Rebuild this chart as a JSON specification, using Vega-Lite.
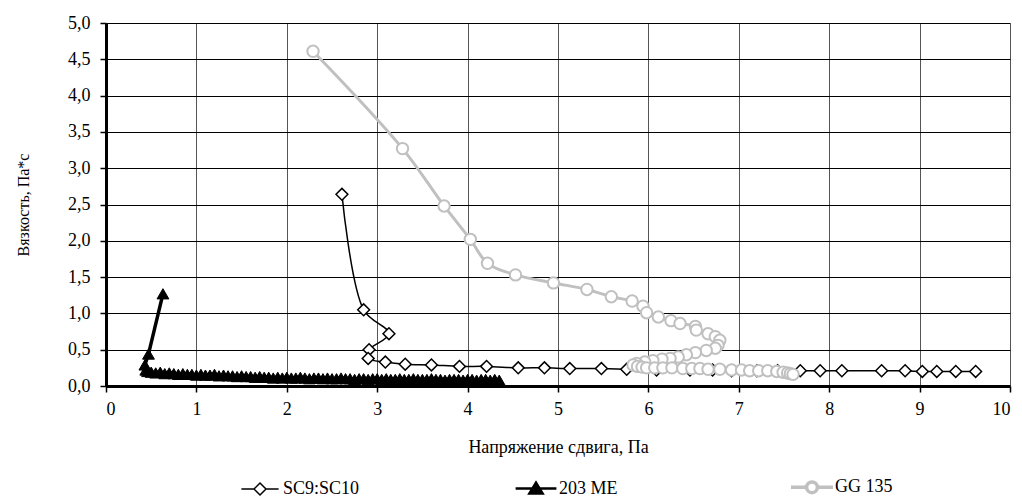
{
  "$schema": "https://vega.github.io/schema/vega-lite/v6.json",
  "width": 904,
  "height": 363,
  "autosize": "none",
  "padding": {"left": 106, "top": 23, "right": 12, "bottom": 116},
  "background": "white",
  "config": {
    "view": {"stroke": null},
    "font": "Liberation Serif",
    "axis": {"labelFont": "Liberation Serif", "titleFont": "Liberation Serif", "labelColor": "black", "titleColor": "black", "titleFontWeight": "normal", "labelFontSize": 18, "titleFontSize": 18, "domainColor": "black", "domainWidth": 3, "tickColor": "black", "tickSize": 6, "tickWidth": 1.5},
    "legend": {"labelFont": "Liberation Serif", "labelFontSize": 18, "labelColor": "black"}
  },
  "data": {"values": [
    {"s": "SC9:SC10", "x": 2.61, "y": 2.64},
    {"s": "SC9:SC10", "x": 2.85, "y": 1.05},
    {"s": "SC9:SC10", "x": 3.13, "y": 0.72},
    {"s": "SC9:SC10", "x": 2.91, "y": 0.50},
    {"s": "SC9:SC10", "x": 2.90, "y": 0.38},
    {"s": "SC9:SC10", "x": 3.09, "y": 0.33},
    {"s": "SC9:SC10", "x": 3.31, "y": 0.30},
    {"s": "SC9:SC10", "x": 3.60, "y": 0.29},
    {"s": "SC9:SC10", "x": 3.91, "y": 0.27},
    {"s": "SC9:SC10", "x": 4.21, "y": 0.27},
    {"s": "SC9:SC10", "x": 4.56, "y": 0.25},
    {"s": "SC9:SC10", "x": 4.85, "y": 0.25},
    {"s": "SC9:SC10", "x": 5.13, "y": 0.24},
    {"s": "SC9:SC10", "x": 5.48, "y": 0.24},
    {"s": "SC9:SC10", "x": 5.76, "y": 0.23},
    {"s": "SC9:SC10", "x": 6.09, "y": 0.22},
    {"s": "SC9:SC10", "x": 6.46, "y": 0.22},
    {"s": "SC9:SC10", "x": 6.71, "y": 0.22},
    {"s": "SC9:SC10", "x": 6.92, "y": 0.21},
    {"s": "SC9:SC10", "x": 7.20, "y": 0.21},
    {"s": "SC9:SC10", "x": 7.43, "y": 0.21},
    {"s": "SC9:SC10", "x": 7.68, "y": 0.21},
    {"s": "SC9:SC10", "x": 7.90, "y": 0.21},
    {"s": "SC9:SC10", "x": 8.14, "y": 0.21},
    {"s": "SC9:SC10", "x": 8.58, "y": 0.21},
    {"s": "SC9:SC10", "x": 8.84, "y": 0.21},
    {"s": "SC9:SC10", "x": 9.03, "y": 0.20},
    {"s": "SC9:SC10", "x": 9.19, "y": 0.20},
    {"s": "SC9:SC10", "x": 9.40, "y": 0.20},
    {"s": "SC9:SC10", "x": 9.62, "y": 0.20},
    {"s": "203 ME", "x": 0.63, "y": 1.27},
    {"s": "203 ME", "x": 0.47, "y": 0.44},
    {"s": "203 ME", "x": 0.43, "y": 0.29},
    {"s": "203 ME", "x": 0.44, "y": 0.22},
    {"s": "203 ME", "x": 0.46, "y": 0.20},
    {"s": "203 ME", "x": 0.50, "y": 0.19},
    {"s": "203 ME", "x": 0.55, "y": 0.18},
    {"s": "203 ME", "x": 0.60, "y": 0.19},
    {"s": "203 ME", "x": 0.65, "y": 0.17},
    {"s": "203 ME", "x": 0.70, "y": 0.18},
    {"s": "203 ME", "x": 0.75, "y": 0.17},
    {"s": "203 ME", "x": 0.80, "y": 0.16},
    {"s": "203 ME", "x": 0.85, "y": 0.17},
    {"s": "203 ME", "x": 0.90, "y": 0.16},
    {"s": "203 ME", "x": 0.95, "y": 0.16},
    {"s": "203 ME", "x": 1.00, "y": 0.15},
    {"s": "203 ME", "x": 1.05, "y": 0.16},
    {"s": "203 ME", "x": 1.10, "y": 0.15},
    {"s": "203 ME", "x": 1.15, "y": 0.15},
    {"s": "203 ME", "x": 1.20, "y": 0.16},
    {"s": "203 ME", "x": 1.25, "y": 0.14},
    {"s": "203 ME", "x": 1.30, "y": 0.15},
    {"s": "203 ME", "x": 1.35, "y": 0.14},
    {"s": "203 ME", "x": 1.40, "y": 0.14},
    {"s": "203 ME", "x": 1.45, "y": 0.13},
    {"s": "203 ME", "x": 1.50, "y": 0.14},
    {"s": "203 ME", "x": 1.55, "y": 0.13},
    {"s": "203 ME", "x": 1.60, "y": 0.13},
    {"s": "203 ME", "x": 1.65, "y": 0.12},
    {"s": "203 ME", "x": 1.70, "y": 0.13},
    {"s": "203 ME", "x": 1.75, "y": 0.12},
    {"s": "203 ME", "x": 1.80, "y": 0.12},
    {"s": "203 ME", "x": 1.85, "y": 0.11},
    {"s": "203 ME", "x": 1.90, "y": 0.12},
    {"s": "203 ME", "x": 1.95, "y": 0.11},
    {"s": "203 ME", "x": 2.00, "y": 0.12},
    {"s": "203 ME", "x": 2.05, "y": 0.11},
    {"s": "203 ME", "x": 2.10, "y": 0.11},
    {"s": "203 ME", "x": 2.15, "y": 0.12},
    {"s": "203 ME", "x": 2.20, "y": 0.11},
    {"s": "203 ME", "x": 2.25, "y": 0.10},
    {"s": "203 ME", "x": 2.30, "y": 0.11},
    {"s": "203 ME", "x": 2.35, "y": 0.11},
    {"s": "203 ME", "x": 2.40, "y": 0.10},
    {"s": "203 ME", "x": 2.45, "y": 0.11},
    {"s": "203 ME", "x": 2.50, "y": 0.10},
    {"s": "203 ME", "x": 2.55, "y": 0.10},
    {"s": "203 ME", "x": 2.60, "y": 0.11},
    {"s": "203 ME", "x": 2.65, "y": 0.10},
    {"s": "203 ME", "x": 2.70, "y": 0.10},
    {"s": "203 ME", "x": 2.75, "y": 0.09},
    {"s": "203 ME", "x": 2.80, "y": 0.10},
    {"s": "203 ME", "x": 2.85, "y": 0.10},
    {"s": "203 ME", "x": 2.90, "y": 0.09},
    {"s": "203 ME", "x": 2.95, "y": 0.10},
    {"s": "203 ME", "x": 3.00, "y": 0.10},
    {"s": "203 ME", "x": 3.05, "y": 0.09},
    {"s": "203 ME", "x": 3.10, "y": 0.10},
    {"s": "203 ME", "x": 3.15, "y": 0.09},
    {"s": "203 ME", "x": 3.20, "y": 0.09},
    {"s": "203 ME", "x": 3.25, "y": 0.10},
    {"s": "203 ME", "x": 3.30, "y": 0.09},
    {"s": "203 ME", "x": 3.35, "y": 0.09},
    {"s": "203 ME", "x": 3.40, "y": 0.10},
    {"s": "203 ME", "x": 3.45, "y": 0.09},
    {"s": "203 ME", "x": 3.50, "y": 0.09},
    {"s": "203 ME", "x": 3.55, "y": 0.09},
    {"s": "203 ME", "x": 3.60, "y": 0.10},
    {"s": "203 ME", "x": 3.65, "y": 0.09},
    {"s": "203 ME", "x": 3.70, "y": 0.09},
    {"s": "203 ME", "x": 3.75, "y": 0.08},
    {"s": "203 ME", "x": 3.80, "y": 0.09},
    {"s": "203 ME", "x": 3.85, "y": 0.09},
    {"s": "203 ME", "x": 3.90, "y": 0.09},
    {"s": "203 ME", "x": 3.95, "y": 0.08},
    {"s": "203 ME", "x": 4.00, "y": 0.09},
    {"s": "203 ME", "x": 4.05, "y": 0.09},
    {"s": "203 ME", "x": 4.10, "y": 0.08},
    {"s": "203 ME", "x": 4.15, "y": 0.09},
    {"s": "203 ME", "x": 4.20, "y": 0.09},
    {"s": "203 ME", "x": 4.25, "y": 0.08},
    {"s": "203 ME", "x": 4.30, "y": 0.09},
    {"s": "203 ME", "x": 4.35, "y": 0.08},
    {"s": "GG 135", "x": 2.29, "y": 4.61},
    {"s": "GG 135", "x": 3.28, "y": 3.27},
    {"s": "GG 135", "x": 3.74, "y": 2.48},
    {"s": "GG 135", "x": 4.03, "y": 2.02},
    {"s": "GG 135", "x": 4.22, "y": 1.69},
    {"s": "GG 135", "x": 4.53, "y": 1.53},
    {"s": "GG 135", "x": 4.95, "y": 1.42},
    {"s": "GG 135", "x": 5.32, "y": 1.33},
    {"s": "GG 135", "x": 5.59, "y": 1.23},
    {"s": "GG 135", "x": 5.82, "y": 1.17},
    {"s": "GG 135", "x": 5.94, "y": 1.10},
    {"s": "GG 135", "x": 5.98, "y": 1.01},
    {"s": "GG 135", "x": 6.11, "y": 0.95},
    {"s": "GG 135", "x": 6.25, "y": 0.90},
    {"s": "GG 135", "x": 6.35, "y": 0.86},
    {"s": "GG 135", "x": 6.52, "y": 0.82},
    {"s": "GG 135", "x": 6.53, "y": 0.77},
    {"s": "GG 135", "x": 6.66, "y": 0.72},
    {"s": "GG 135", "x": 6.74, "y": 0.68},
    {"s": "GG 135", "x": 6.79, "y": 0.63},
    {"s": "GG 135", "x": 6.77, "y": 0.56},
    {"s": "GG 135", "x": 6.74, "y": 0.52},
    {"s": "GG 135", "x": 6.64, "y": 0.49},
    {"s": "GG 135", "x": 6.52, "y": 0.46},
    {"s": "GG 135", "x": 6.42, "y": 0.43},
    {"s": "GG 135", "x": 6.33, "y": 0.40},
    {"s": "GG 135", "x": 6.24, "y": 0.38},
    {"s": "GG 135", "x": 6.15, "y": 0.37},
    {"s": "GG 135", "x": 6.05, "y": 0.35},
    {"s": "GG 135", "x": 5.96, "y": 0.33},
    {"s": "GG 135", "x": 5.87, "y": 0.31},
    {"s": "GG 135", "x": 5.83, "y": 0.29},
    {"s": "GG 135", "x": 5.88, "y": 0.27},
    {"s": "GG 135", "x": 5.93, "y": 0.26},
    {"s": "GG 135", "x": 5.98, "y": 0.25},
    {"s": "GG 135", "x": 6.07, "y": 0.25},
    {"s": "GG 135", "x": 6.16, "y": 0.25},
    {"s": "GG 135", "x": 6.26, "y": 0.25},
    {"s": "GG 135", "x": 6.38, "y": 0.24},
    {"s": "GG 135", "x": 6.48, "y": 0.24},
    {"s": "GG 135", "x": 6.57, "y": 0.24},
    {"s": "GG 135", "x": 6.66, "y": 0.23},
    {"s": "GG 135", "x": 6.79, "y": 0.23},
    {"s": "GG 135", "x": 6.92, "y": 0.22},
    {"s": "GG 135", "x": 7.03, "y": 0.22},
    {"s": "GG 135", "x": 7.12, "y": 0.21},
    {"s": "GG 135", "x": 7.22, "y": 0.21},
    {"s": "GG 135", "x": 7.32, "y": 0.21},
    {"s": "GG 135", "x": 7.42, "y": 0.20},
    {"s": "GG 135", "x": 7.49, "y": 0.19},
    {"s": "GG 135", "x": 7.54, "y": 0.18},
    {"s": "GG 135", "x": 7.57, "y": 0.17},
    {"s": "GG 135", "x": 7.60, "y": 0.16}
  ]},
  "encoding": {
    "x": {"field": "x", "type": "quantitative", "scale": {"domain": [0, 10], "nice": false},
      "axis": {"values": [0,1,2,3,4,5,6,7,8,9,10], "title": "Напряжение сдвига, Па", "grid": true, "gridColor": "#555555", "gridWidth": 1, "labelPadding": 8, "titlePadding": 20}},
    "y": {"field": "y", "type": "quantitative", "scale": {"domain": [0, 5], "nice": false},
      "axis": {"values": [0,0.5,1,1.5,2,2.5,3,3.5,4,4.5,5], "labelExpr": "replace(format(datum.value, '.1f'), '.', ',')", "title": "Вязкость, Па*с", "titleFontSize": 16, "grid": true, "gridColor": "#000000", "gridWidth": 1, "labelPadding": 10, "titlePadding": 36}}
  },
  "layer": [
    {"transform": [{"filter": "datum.s === 'SC9:SC10'"}], "mark": {"type": "line", "color": "black", "strokeWidth": 1.5, "interpolate": "catmull-rom"}, "encoding": {"order": {"value": null}}},
    {"transform": [{"filter": "datum.s === 'SC9:SC10'"}], "mark": {"type": "point", "shape": "diamond", "size": 140, "filled": true, "fill": "white", "stroke": "black", "strokeWidth": 1.5, "opacity": 1}},
    {"transform": [{"filter": "datum.s === '203 ME'"}], "mark": {"type": "line", "color": "black", "strokeWidth": 3.5, "interpolate": "linear"}, "encoding": {"order": {"value": null}}},
    {"transform": [{"filter": "datum.s === '203 ME'"}], "mark": {"type": "point", "shape": "triangle-up", "size": 140, "filled": true, "fill": "black", "stroke": "black", "strokeWidth": 1, "opacity": 1}},
    {"transform": [{"filter": "datum.s === 'GG 135'"}], "mark": {"type": "line", "color": "#c0c0c0", "strokeWidth": 3, "interpolate": "catmull-rom"}, "encoding": {"order": {"value": null}}},
    {"transform": [{"filter": "datum.s === 'GG 135'"}], "mark": {"type": "point", "shape": "circle", "size": 130, "filled": true, "fill": "white", "stroke": "#c0c0c0", "strokeWidth": 2, "opacity": 1}},
    {"transform": [{"filter": "datum.x < 0"}], "mark": {"type": "point", "filled": true, "opacity": 1},
      "encoding": {
        "shape": {"field": "s", "type": "nominal", "scale": {"domain": ["SC9:SC10", "203 ME", "GG 135"], "range": ["M-3.1,0L-1,0M1,0L3.1,0M-1,0L0,-1L1,0L0,1Z", "M-3.4,0L3.4,0M0,-1L1.1,0.8L-1.1,0.8Z", "M-3.5,0L-0.9,0M0.9,0L3.5,0M-0.9,0A0.9,0.9 0 1,0 0.9,0A0.9,0.9 0 1,0 -0.9,0Z"]},
          "legend": {"title": null, "orient": "none", "legendX": 145, "legendY": 455, "direction": "horizontal", "columns": 3, "gridAlign": "all", "columnPadding": 148, "symbolSize": 144, "labelOffset": 14, "symbolOpacity": 1}},
        "fill": {"field": "s", "type": "nominal", "scale": {"domain": ["SC9:SC10", "203 ME", "GG 135"], "range": ["white", "black", "white"]}},
        "stroke": {"field": "s", "type": "nominal", "scale": {"domain": ["SC9:SC10", "203 ME", "GG 135"], "range": ["black", "black", "#c0c0c0"]}},
        "strokeWidth": {"field": "s", "type": "nominal", "scale": {"domain": ["SC9:SC10", "203 ME", "GG 135"], "range": [1.5, 3.5, 3]}}
      }
    }
  ]
}
